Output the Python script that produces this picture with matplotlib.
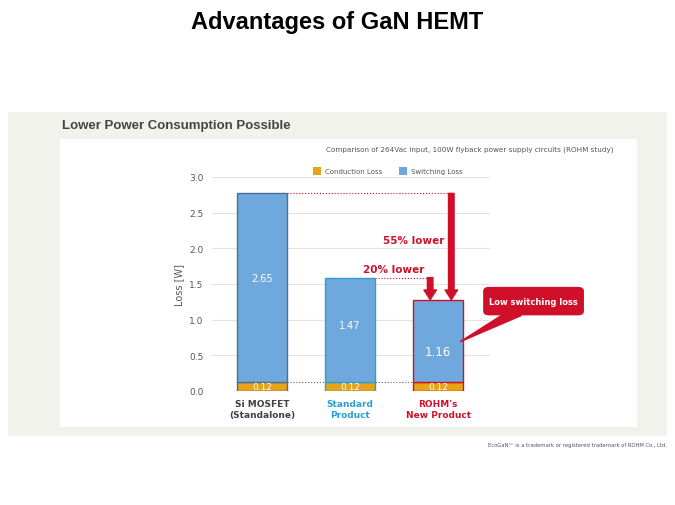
import matplotlib.pyplot as plt
from matplotlib.patches import Rectangle, FancyBboxPatch, Polygon

categories = ["Si MOSFET\n(Standalone)", "Standard\nProduct", "ROHM's\nNew Product"]
conduction = [0.12, 0.12, 0.12]
switching = [2.65, 1.47, 1.16]
reductions = ["55% lower", "20% lower"]
cat_colors = ["#404040", "#2a9fd6", "#d0102a"]
edge_colors = ["#4d6f8c", "#2a9fd6", "#d0102a"]
yticks = [0.0, 0.5, 1.0, 1.5, 2.0, 2.5, 3.0]

RED = "#d0102a"
fig = plt.figure(figsize=(6.75, 5.06), dpi=100)
fig.patches.append(Rectangle((8/675, 1-437/506), 659/675, 324/506, transform=fig.transFigure,
                             facecolor="#f2f2ed", edgecolor="none", zorder=-2))
fig.patches.append(Rectangle((60/675, 1-428/506), 577/675, 288/506, transform=fig.transFigure,
                             facecolor="white", edgecolor="none", zorder=-1))
fig.text(0.5, 1-22/506, "Advantages of GaN HEMT", ha="center", va="center",
         fontsize=17, fontweight="bold", family="Liberation Sans")
fig.text(62/675, 1-126/506, "Lower Power Consumption Possible", ha="left", va="center",
         fontsize=9.5, fontweight="bold", color="#444444", family="Liberation Sans")
fig.text(613/675, 1-150/506, "Comparison of 264Vac input, 100W flyback power supply circuits (ROHM study)",
         ha="right", va="center", fontsize=5.2, color="#555555")
fig.text(667/675, 1-446/506, "EcoGaN\u2122 is a trademark or registered trademark of ROHM Co., Ltd.",
         ha="right", va="center", fontsize=3.8, color="#555555")
# legend
fig.patches.append(Rectangle((313/675, 1-176/506), 8/675, 8/506, transform=fig.transFigure,
                             facecolor="#e8a317", edgecolor="none"))
fig.text(325/675, 1-172/506, "Conduction Loss", fontsize=5, va="center", color="#555555")
fig.patches.append(Rectangle((399/675, 1-176/506), 8/675, 8/506, transform=fig.transFigure,
                             facecolor="#6fa8dc", edgecolor="none"))
fig.text(411/675, 1-172/506, "Switching Loss", fontsize=5, va="center", color="#555555")

ax = fig.add_axes([212/675, 114/506, 278/675, 214/506])
ax.set_facecolor("none")
x = range(len(categories))
w = 0.57
ax.bar(x, conduction, width=w, color="#e8a317", edgecolor=edge_colors, linewidth=1, zorder=3)
ax.bar(x, switching, bottom=conduction, width=w, color="#6fa8dc", edgecolor=edge_colors, linewidth=1, zorder=3)
for i in x:
    ax.text(i, conduction[i] / 2 + 0.01, f"{conduction[i]:.2f}", ha="center", va="center",
            color="white", fontsize=6.5, zorder=4)
    ax.text(i, conduction[i] + switching[i] * (0.55 if i < 2 else 0.37), f"{switching[i]:.2f}",
            ha="center", va="center", color="white", fontsize=7 if i < 2 else 8.5, zorder=4)
ax.set_xlim(-0.57, 2.59)
ax.set_ylim(0, 3.0)
ax.set_yticks(yticks)
ax.set_yticklabels([f"{t:.1f}" for t in yticks], fontsize=6.5, color="#555555")
ax.set_xticks(list(x))
ax.set_xticklabels(categories, fontsize=6.5, fontweight="bold")
for lbl, c in zip(ax.get_xticklabels(), cat_colors):
    lbl.set_color(c)
ax.tick_params(length=0, pad=6)
ax.grid(axis="y", color="#e3e3e3", linewidth=0.8, zorder=0)
for s in ax.spines.values():
    s.set_visible(False)
ax.set_ylabel("Loss [W]", fontsize=7, color="#555555")

tot = [c + s for c, s in zip(conduction, switching)]
ax.plot([w/2, 2.15], [tot[0], tot[0]], ls=":", color=RED, lw=0.8, zorder=2)
ax.plot([1 + w/2, 1.91], [tot[1], tot[1]], ls=":", color=RED, lw=0.8, zorder=2)
ax.plot([w/2, 2 - w/2], [conduction[0], conduction[0]], ls=":", color="#666666", lw=0.8, zorder=2)
arrow = dict(arrowstyle="simple,head_width=0.9,head_length=0.7,tail_width=0.4",
             color=RED, shrinkA=0, shrinkB=0)
ax.annotate("", xy=(2.15, tot[2]), xytext=(2.15, tot[0]), zorder=5, arrowprops=arrow)
ax.annotate("", xy=(1.91, tot[2]), xytext=(1.91, tot[1]), zorder=5, arrowprops=arrow)
ax.text(2.07, 2.12, reductions[0], ha="right", va="center", color=RED,
        fontsize=7.5, fontweight="bold")
ax.text(1.84, 1.71, reductions[1], ha="right", va="center", color=RED,
        fontsize=7.5, fontweight="bold")
ax.add_patch(Polygon([(2.25, 0.69), (2.72, 1.06), (2.95, 1.06)], closed=True, color=RED,
                     clip_on=False, zorder=5))
ax.add_patch(FancyBboxPatch((2.52, 1.07), 1.13, 0.38, boxstyle="round,pad=0,rounding_size=0.06",
                            facecolor=RED, edgecolor=RED, clip_on=False, zorder=5,
                            mutation_aspect=0.8))
ax.text(3.085, 1.26, "Low switching loss", ha="center", va="center", color="white",
        fontsize=6, fontweight="bold", zorder=6)

fig.savefig("out.png", dpi=100)
